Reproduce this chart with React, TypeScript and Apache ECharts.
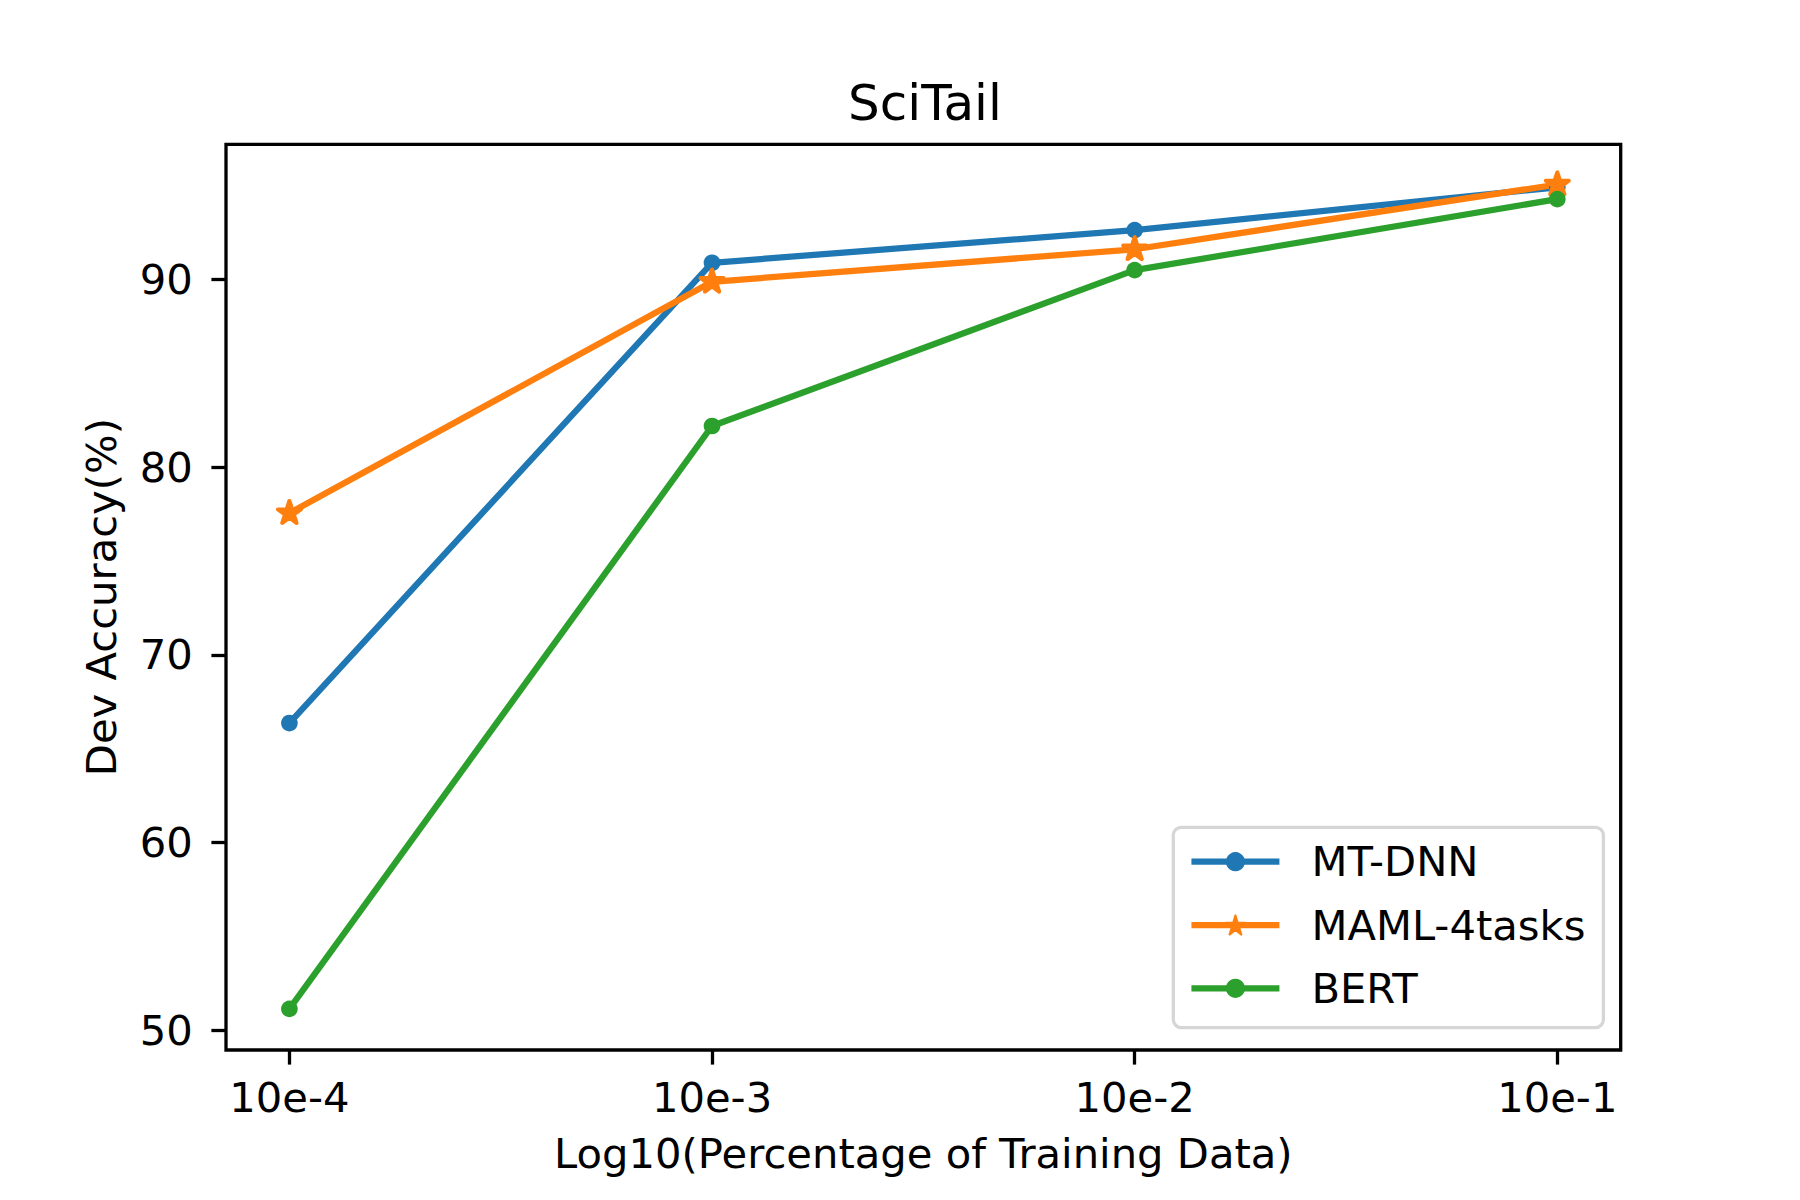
import React, { useEffect, useRef } from "react";
import * as echarts from "echarts";

const categories = ["10e-4", "10e-3", "10e-2", "10e-1"];
const mtDnn = [66.37, 90.88, 92.62, 94.9];
const maml = [77.55, 89.87, 91.6, 95.05];
const bert = [51.15, 82.19, 90.49, 94.27];
const yTicks = [50, 60, 70, 80, 90];
const seriesNames = ["MT-DNN", "MAML-4tasks", "BERT"];
const colors = ["#1f77b4", "#ff7f0e", "#2ca02c"];

const STAR =
  "path://M0,-100 L-22.45,-30.9 L-95.11,-30.9 L-36.33,11.8 L-58.78,80.9 L0,38.2 L58.78,80.9 L36.33,11.8 L95.11,-30.9 L22.45,-30.9 Z";

const FONT = "DejaVu Sans";

export default function App() {
  const ref = useRef<HTMLDivElement>(null);
  useEffect(() => {
    const chart = echarts.init(ref.current!, null, { renderer: "svg" });
    const toPairs = (arr: number[]) => arr.map((v, i) => [i, v]);
    const mk = (name: string, data: number[], color: string, star: boolean) => ({
      name,
      type: "line",
      data: toPairs(data),
      color,
      symbol: star ? STAR : "circle",
      symbolSize: star ? [23, 22] : 16.7,
      symbolOffset: star ? [0, "-5.3%"] : [0, 0],
      showAllSymbol: true,
      lineStyle: { width: 6.25, color },
      itemStyle: star
        ? { color, borderColor: color, borderWidth: 4, borderJoin: "round" }
        : { color },
      emphasis: { disabled: true },
    });
    chart.setOption({
      animation: false,
      backgroundColor: "#ffffff",
      textStyle: { fontFamily: FONT, color: "#000" },
      title: {
        text: "SciTail",
        left: 920,
        textAlign: "center",
        top: 73,
        textStyle: { fontFamily: FONT, fontSize: 50, fontWeight: "normal", color: "#000" },
      },
      grid: {
        left: 226,
        top: 144.3,
        right: 179.3,
        bottom: 150,
        show: true,
        borderColor: "#000",
        borderWidth: 3.3,
        backgroundColor: "transparent",
        containLabel: false,
      },
      legend: {
        orient: "vertical",
        left: 1173.3,
        top: 827.3,
        padding: [13.4, 18, 18.3, 15],
        itemWidth: 88,
        itemHeight: 24,
        itemGap: 21.3,
        backgroundColor: "#ffffff",
        borderColor: "#d6d6d6",
        borderWidth: 3.3,
        borderRadius: 8,
        lineStyle: { width: 6.25 },
        textStyle: {
          fontFamily: FONT,
          fontSize: 41.7,
          color: "#000",
          padding: [0, 0, 0, 27],
        },
        data: seriesNames,
        selectedMode: false,
      },
      xAxis: {
        type: "value",
        min: -0.15,
        max: 3.15,
        name: "Log10(Percentage of Training Data)",
        nameLocation: "middle",
        nameGap: 82,
        nameTextStyle: { fontFamily: FONT, fontSize: 41.7, color: "#000" },
        axisLine: { show: false, onZero: false },
        splitLine: { show: false },
        axisTick: {
          show: true,
          length: 14.6,
          customValues: [0, 1, 2, 3],
          lineStyle: { color: "#000", width: 3.3 },
        },
        axisLabel: {
          customValues: [0, 1, 2, 3],
          formatter: (v: number) => categories[Math.round(v)] ?? "",
          fontFamily: FONT,
          fontSize: 41.7,
          color: "#000",
          margin: 26,
        },
      },
      yAxis: {
        type: "value",
        min: 48.96,
        max: 97.19,
        name: "Dev Accuracy(%)",
        nameLocation: "middle",
        nameGap: 104,
        nameRotate: 90,
        nameTextStyle: { fontFamily: FONT, fontSize: 41.7, color: "#000" },
        axisLine: { show: false, onZero: false },
        splitLine: { show: false },
        axisTick: {
          show: true,
          length: 14.6,
          customValues: yTicks,
          lineStyle: { color: "#000", width: 3.3 },
        },
        axisLabel: {
          customValues: yTicks,
          formatter: (v: number) => String(v),
          fontFamily: FONT,
          fontSize: 41.7,
          color: "#000",
          margin: 33.3,
        },
      },
      series: [
        mk(seriesNames[0], mtDnn, colors[0], false),
        mk(seriesNames[1], maml, colors[1], true),
        mk(seriesNames[2], bert, colors[2], false),
      ],
    });
    return () => chart.dispose();
  }, []);
  return (
    <div
      ref={ref}
      style={{ position: "fixed", left: 0, top: 0, width: 1800, height: 1200, background: "#fff" }}
    />
  );
}
